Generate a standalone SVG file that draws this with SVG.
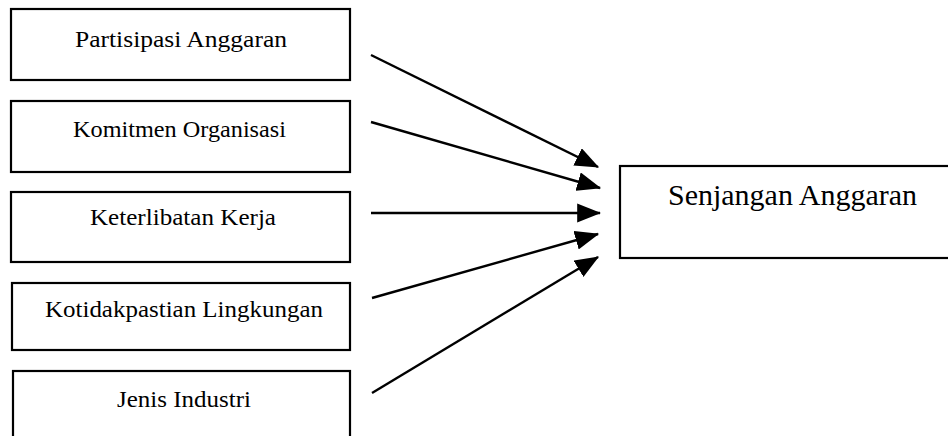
<svg xmlns="http://www.w3.org/2000/svg" width="948" height="436" viewBox="0 0 948 436">
<style>
.box{fill:#fff;stroke:#000;stroke-width:2.2}
.t{font-family:"Liberation Serif","Times New Roman",serif;font-size:23px;fill:#000}
.tb{font-family:"Liberation Serif","Times New Roman",serif;font-size:29px;fill:#000}
.c{stroke:#000;stroke-width:2.4;fill:none;marker-end:url(#ah)}
</style>
<defs>
<marker id="ah" markerWidth="10" markerHeight="8" refX="9.5" refY="4" orient="auto" markerUnits="strokeWidth">
<path d="M0,0 L10,4 L0,8 Z" fill="#000"/>
</marker>
</defs>
<rect width="948" height="436" fill="#fff"/>
<g id="n1"><rect class="box" x="11" y="9" width="339" height="71"/><text class="t" x="75" y="47" textLength="212" lengthAdjust="spacingAndGlyphs">Partisipasi Anggaran</text></g>
<g id="n2"><rect class="box" x="11" y="101" width="339" height="71"/><text class="t" x="73" y="137" textLength="213" lengthAdjust="spacingAndGlyphs">Komitmen Organisasi</text></g>
<g id="n3"><rect class="box" x="11" y="192" width="339" height="70"/><text class="t" x="90" y="225" textLength="186" lengthAdjust="spacingAndGlyphs">Keterlibatan Kerja</text></g>
<g id="n4"><rect class="box" x="12" y="283" width="338" height="67"/><text class="t" x="45" y="317" textLength="278" lengthAdjust="spacingAndGlyphs">Kotidakpastian Lingkungan</text></g>
<g id="n5"><rect class="box" x="13" y="371" width="337" height="80"/><text class="t" x="117" y="407" textLength="134" lengthAdjust="spacingAndGlyphs">Jenis Industri</text></g>
<g id="n6"><rect class="box" x="620" y="166" width="340" height="92"/><text class="tb" x="668" y="205" textLength="249" lengthAdjust="spacingAndGlyphs">Senjangan Anggaran</text></g>
<g id="connectors">
<line class="c" x1="371" y1="55" x2="598" y2="167"/>
<line class="c" x1="371" y1="122" x2="600" y2="188"/>
<line class="c" x1="371" y1="213" x2="600" y2="213"/>
<line class="c" x1="372" y1="298" x2="598" y2="234"/>
<line class="c" x1="372" y1="393" x2="598" y2="257"/>
</g>
</svg>
